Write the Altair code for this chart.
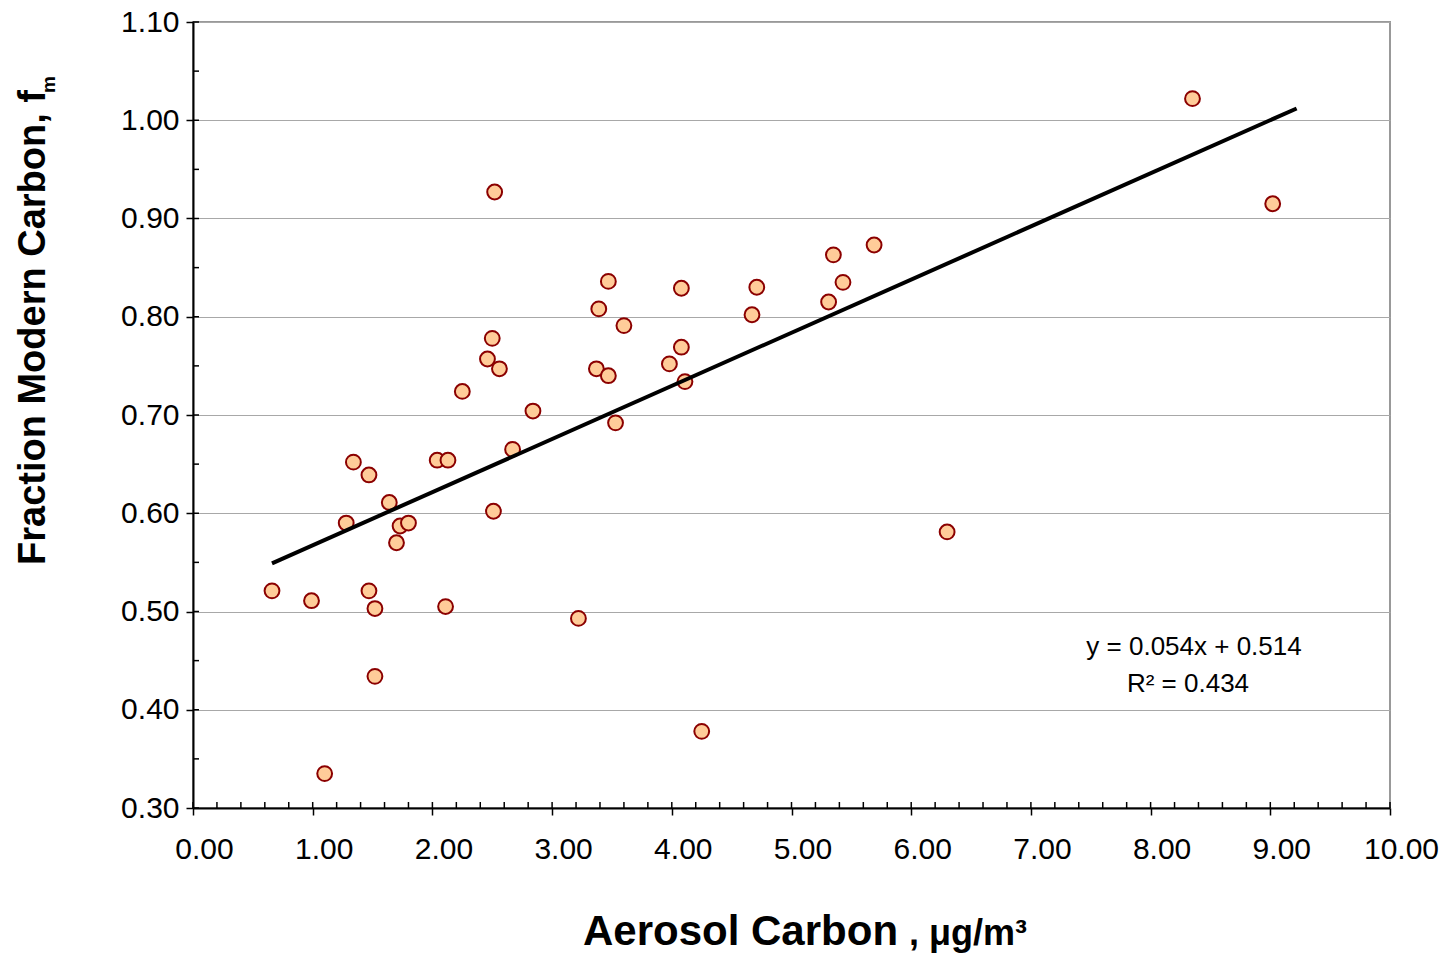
import altair as alt
import pandas as pd

# ---- data ----
aerosol_carbon = [0.66, 0.99, 1.10, 1.28, 1.34, 1.47, 1.47, 1.52, 1.52, 1.64,
                  1.70, 1.73, 1.80, 2.04, 2.13, 2.11, 2.25, 2.46, 2.50, 2.52,
                  2.56, 2.51, 2.67, 2.84, 3.22, 3.37, 3.39, 3.47, 3.47, 3.53,
                  3.60, 3.98, 4.08, 4.08, 4.11, 4.25, 4.67, 4.71, 5.31, 5.35,
                  5.43, 5.69, 6.30, 8.35, 9.02]
fraction_modern = [0.521, 0.511, 0.335, 0.590, 0.652, 0.639, 0.521, 0.503, 0.434, 0.611,
                   0.570, 0.587, 0.590, 0.654, 0.654, 0.505, 0.724, 0.757, 0.778, 0.927,
                   0.747, 0.602, 0.665, 0.704, 0.493, 0.747, 0.808, 0.836, 0.740, 0.692,
                   0.791, 0.752, 0.829, 0.769, 0.734, 0.378, 0.802, 0.830, 0.815, 0.863,
                   0.835, 0.873, 0.581, 1.022, 0.915]
trend_x = [0.66, 9.22]
trend_y = [0.549, 1.012]

x_ticks = [0, 1, 2, 3, 4, 5, 6, 7, 8, 9, 10]
y_ticks = [0.3, 0.4, 0.5, 0.6, 0.7, 0.8, 0.9, 1.0, 1.1]
x_minor = [round(i * 0.2, 2) for i in range(51)]
y_minor = [round(0.3 + i * 0.05, 2) for i in range(17)]

equation_text = "y = 0.054x + 0.514"
r2_text = "R² = 0.434"
y_title = "Fraction Modern Carbon, f"
y_title_sub = "m"
x_title = "Aerosol Carbon"
x_title_unit = ", μg/m³"

FONT = "Liberation Sans"
W, H = 1197, 786

xs = alt.Scale(domain=[0, 10], nice=False, zero=False)
ys = alt.Scale(domain=[0.3, 1.1], nice=False, zero=False)

x_axis = alt.Axis(
    values=x_ticks, format=".2f", title=None, grid=False,
    labelFont=FONT, labelFontSize=30, labelColor="black",
    labelPadding=19, labelOffset=11, labelFlush=False, labelOverlap=False,
    tickSize=7, tickColor="black", tickWidth=1.5,
    domainColor="black", domainWidth=2)
y_axis = alt.Axis(
    values=y_ticks, format=".2f", title=None, grid=True,
    gridColor="#a8a8a8", gridWidth=1,
    labelFont=FONT, labelFontSize=30, labelColor="black",
    labelPadding=7, labelFlush=False, labelOverlap=False,
    tickSize=7, tickColor="black", tickWidth=1.5,
    domainColor="black", domainWidth=2)

pts = pd.DataFrame({"x": aerosol_carbon, "y": fraction_modern})
trend = pd.DataFrame({"x": trend_x, "y": trend_y})

points = alt.Chart(pts).mark_point(
    shape="circle", filled=True, size=220, fill="#FFCC99",
    stroke="#8B0000", strokeWidth=2, opacity=1
).encode(
    x=alt.X("x:Q", scale=xs, axis=x_axis),
    y=alt.Y("y:Q", scale=ys, axis=y_axis),
)

line = alt.Chart(trend).mark_line(color="black", strokeWidth=4).encode(
    x=alt.X("x:Q", scale=xs, axis=x_axis),
    y=alt.Y("y:Q", scale=ys, axis=y_axis),
)

xin = alt.Chart(pd.DataFrame({"x": x_minor})).mark_rule(color="black", strokeWidth=1.5).encode(
    x=alt.X("x:Q", scale=xs, axis=x_axis),
    y=alt.value(H), y2=alt.value(H - 6),
)
yin = alt.Chart(pd.DataFrame({"y": y_minor})).mark_rule(color="black", strokeWidth=1.5).encode(
    y=alt.Y("y:Q", scale=ys, axis=y_axis),
    x=alt.value(0), x2=alt.value(6),
)

def label(txt, x, y, size, bold=False, align="center", angle=0):
    kw = dict(font=FONT, fontSize=size, color="black", align=align,
              baseline="alphabetic", fontWeight="bold" if bold else "normal")
    if angle:
        kw["angle"] = angle
    return alt.Chart(pd.DataFrame({"t": [txt]})).mark_text(**kw).encode(
        x=alt.value(x), y=alt.value(y), text="t:N")

texts = [
    label(equation_text, 1001, 633, 26),
    label(r2_text, 995, 670, 26),
    label(y_title, -148, 543, 38, bold=True, align="left", angle=270),
    label(y_title_sub, -138, 71, 19, bold=True, align="left", angle=270),
    label(x_title, 390, 923, 42, bold=True, align="left"),
    label(x_title_unit, 716, 923, 36, bold=True, align="left"),
]

chart = alt.layer(points, line, xin, yin, *texts).properties(
    width=W, height=H,
    autosize=alt.AutoSizeParams(type="none"),
    padding={"left": 185, "top": 14, "right": 50, "bottom": 150},
    background="white",
).configure_view(stroke="#999999", strokeWidth=2)

chart.save("out.html", embed_options={"renderer": "svg", "actions": False})
